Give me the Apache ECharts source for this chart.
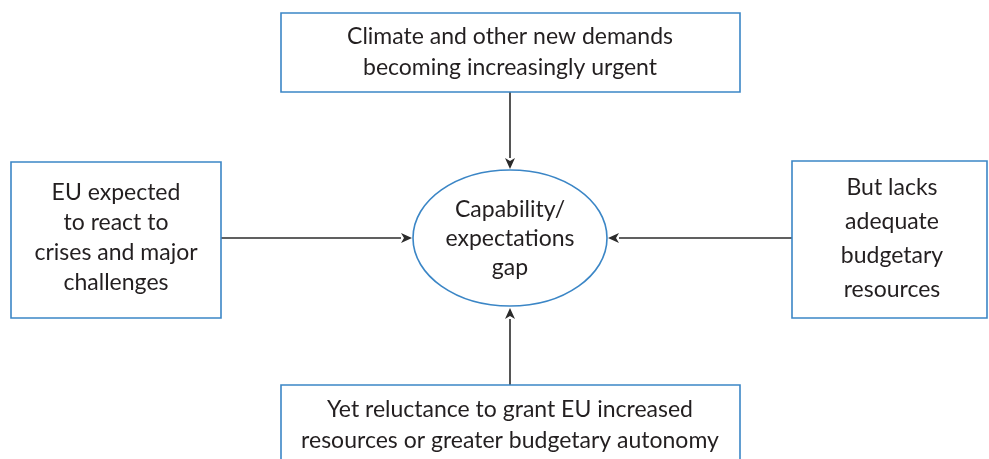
<!DOCTYPE html>
<html><head><meta charset="utf-8">
<script src="https://cdn.jsdelivr.net/npm/echarts@6/dist/echarts.min.js"></script>
<style>html,body{margin:0;padding:0;background:#fff}#c{width:989px;height:459px}</style>
</head><body><div id="c"></div>
<script>
const topText = ['Climate and other new demands', 'becoming increasingly urgent'];
const leftText = ['EU expected', 'to react to', 'crises and major', 'challenges'];
const rightText = ['But lacks', 'adequate', 'budgetary', 'resources'];
const bottomText = ['Yet reluctance to grant EU increased', 'resources or greater budgetary autonomy'];
const centerText = ['Capability/', 'expectations', 'gap'];

const chart = echarts.init(document.getElementById('c'), null, {renderer: 'canvas'});
const BLUE = '#3b86c6', INK = '#231f20', LINE = '#2b2b2b';
const FONT = 'Lato, "Open Sans", sans-serif';
const FS = 23;

function box(x1, y1, x2, y2) {
  return {type: 'rect', shape: {x: x1, y: y1, width: x2 - x1, height: y2 - y1},
    style: {fill: '#fff', stroke: BLUE, lineWidth: 1.6}};
}
function lines(arr, cx, y0, gap) {
  return arr.map((t, i) => ({type: 'text', x: cx, y: y0 + i * gap,
    style: {text: t, fill: INK, font: FS + 'px ' + FONT, textAlign: 'center', textVerticalAlign: 'middle'}}));
}
function arrow(x1, y1, x2, y2) {
  const ang = Math.atan2(y2 - y1, x2 - x1), L = 11, W = 5;
  const bx = x2 - L * Math.cos(ang), by = y2 - L * Math.sin(ang);
  const px = -Math.sin(ang) * W, py = Math.cos(ang) * W;
  return [
    {type: 'line', shape: {x1, y1, x2: bx, y2: by}, style: {stroke: LINE, lineWidth: 1.6}},
    {type: 'polygon', shape: {points: [[x2, y2], [bx + px, by + py], [bx + 3*Math.cos(ang), by + 3*Math.sin(ang)], [bx - px, by - py]]}, style: {fill: LINE}}
  ];
}

const g = [];
g.push(...arrow(510, 92, 510, 169));
g.push(...arrow(221, 238, 412, 238));
g.push(...arrow(792, 238, 608, 238));
g.push(...arrow(510, 385, 510, 308));
g.push(box(281, 13, 740, 92));
g.push(box(11, 162, 221, 318));
g.push(box(792, 161, 987, 318));
g.push(box(281, 385, 740, 470));
g.push({type: 'ellipse', shape: {cx: 510, cy: 238, rx: 97, ry: 68}, style: {fill: '#fff', stroke: BLUE, lineWidth: 1.6}});
g.push(...lines(topText, 510, 37, 31));
g.push(...lines(leftText, 116, 193, 30));
g.push(...lines(rightText, 892, 188, 34));
g.push(...lines(bottomText, 510, 410, 31));
g.push(...lines(centerText, 510, 210, 29));

chart.setOption({animation: false, graphic: {elements: g}});
</script></body></html>
